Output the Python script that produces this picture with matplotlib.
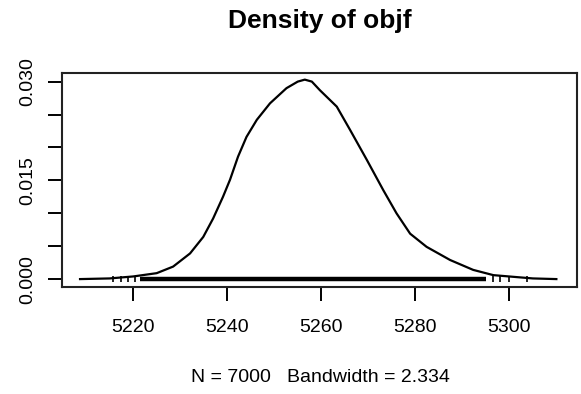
import matplotlib
matplotlib.use("Agg")
import matplotlib.pyplot as plt

# Density curve
dens_x = [5208.7, 5215.0, 5220.0, 5225.0, 5228.5, 5232.1, 5234.9, 5237.0, 5239.1, 5240.6,
          5242.3, 5244.1, 5246.3, 5249.1, 5252.6, 5255.0, 5256.5, 5258.0, 5259.7, 5263.3,
          5266.1, 5269.7, 5273.2, 5276.0, 5278.9, 5282.4, 5287.4, 5292.3, 5296.6, 5301.6,
          5305.0, 5310.0]
dens_y = [0.0000, 0.0001, 0.0004, 0.0009, 0.0019, 0.0039, 0.0064, 0.0092, 0.0125, 0.0151,
          0.0186, 0.0216, 0.0242, 0.0267, 0.0290, 0.0300, 0.0303, 0.0300, 0.0287, 0.0262,
          0.0227, 0.0181, 0.0135, 0.0100, 0.0069, 0.0049, 0.0029, 0.0014, 0.0006, 0.0003,
          0.0001, 0.0000]

# Rug: dense band and sparse tail observations
rug_band = [5221.4, 5295.0]
rug_tails = [5215.7, 5217.5, 5219.0, 5220.3, 5296.5, 5298.0, 5300.0, 5303.7]

x_ticks = [5220, 5240, 5260, 5280, 5300]
x_tick_labels = ["5220", "5240", "5260", "5280", "5300"]
y_ticks = [0.000, 0.005, 0.010, 0.015, 0.020, 0.025, 0.030]
y_tick_labels = ["0.000", "", "", "0.015", "", "", "0.030"]

title = "Density of objf"
xlabel = "N = 7000   Bandwidth = 2.334"

plt.rcParams['font.family'] = ['Liberation Sans', 'DejaVu Sans']

fig = plt.figure(figsize=(5.81, 3.94), dpi=100)
ax = fig.add_axes([0.1062, 0.2716, 0.887, 0.543])

ax.plot(dens_x, dens_y, color='black', lw=1.6, solid_joinstyle='round')
ax.plot(rug_band, [0, 0], color='black', lw=3.2, solid_capstyle='butt')
ax.plot(rug_tails, [0] * len(rug_tails), linestyle='none', marker='|',
        markersize=4, markeredgewidth=1.2, color='black')

ax.set_xlim(5204.8, 5314.4)
ax.set_ylim(-0.0012, 0.0313)

ax.set_xticks(x_ticks)
ax.set_xticklabels(x_tick_labels, fontsize=14)
ax.set_yticks(y_ticks)
ax.set_yticklabels(y_tick_labels, fontsize=14, rotation=90, va='center')

ax.tick_params(axis='both', direction='out', length=10, width=1.4, color='black')
ax.tick_params(axis='x', pad=13)
ax.tick_params(axis='y', pad=8)

for s in ax.spines.values():
    s.set_linewidth(1.5)
    s.set_color('#222222')

fig.text(0.551, 0.947, title, ha='center', va='center', fontsize=19, fontweight='bold')
fig.text(0.551, 0.043, xlabel, ha='center', va='center', fontsize=14)

fig.savefig("out.png", dpi=100)
